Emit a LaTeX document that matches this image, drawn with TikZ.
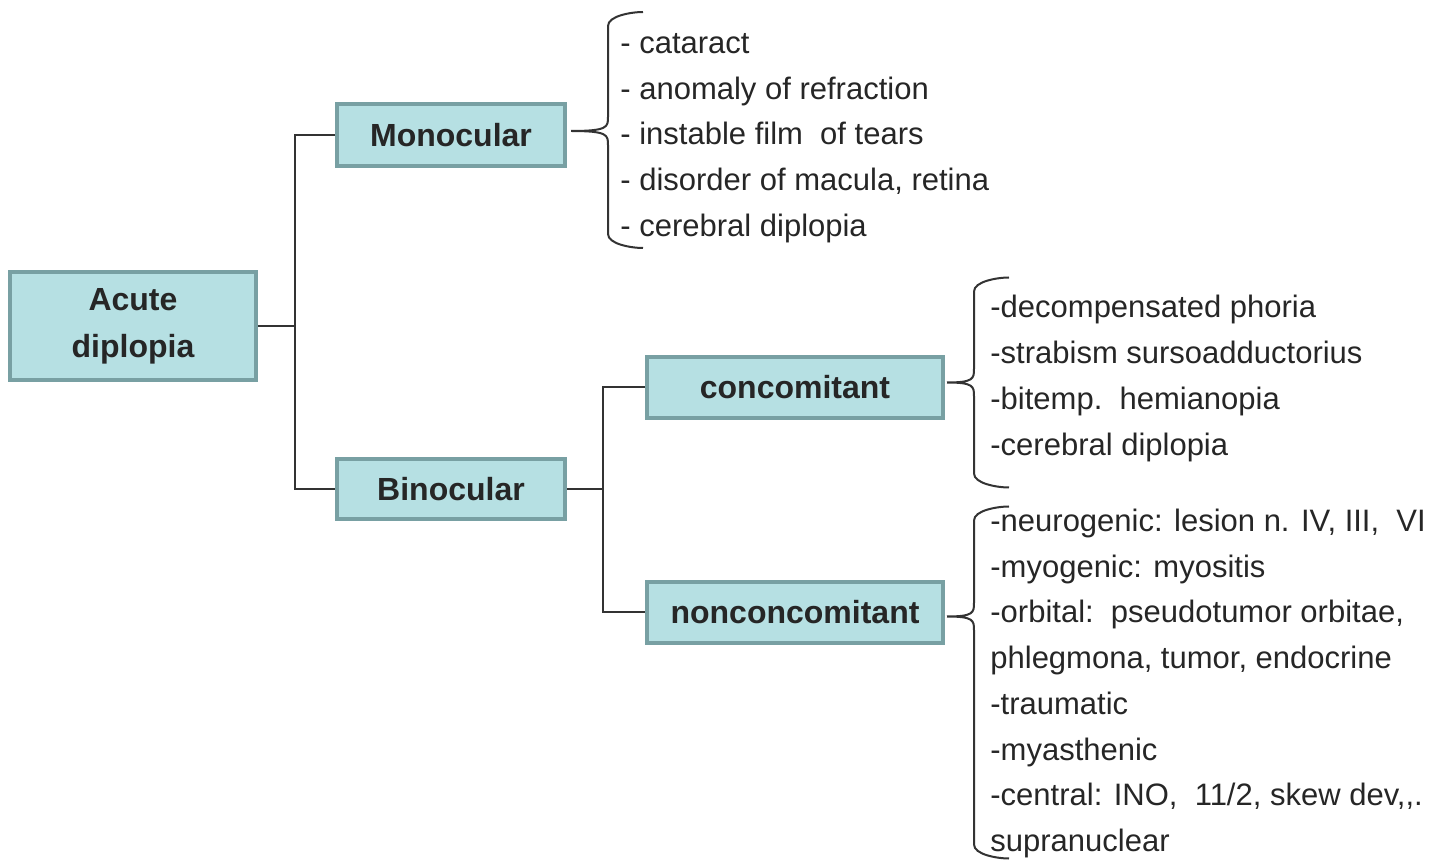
\documentclass[tikz,border=0pt]{standalone}
\usepackage{fontspec}
\setmainfont{Liberation Sans}
\usetikzlibrary{positioning}
\definecolor{boxfill}{RGB}{182,224,227}
\definecolor{boxline}{RGB}{120,160,163}
\definecolor{treeline}{RGB}{51,51,51}

% left curly brace: tip, offset of the stem, stem length up, stem length down
\newcommand{\curlybrace}[4]{%
  \draw [brc] (#1) .. controls +(#2,0) and +(0,-5pt) .. ++(#2,7pt) -- ++(0,#3)
                   .. controls +(0,5pt) and +(-6pt,0) .. ++(17.5pt,7pt)
              (#1) .. controls +(#2,0) and +(0,5pt) .. ++(#2,-7pt) -- ++(0,-#4)
                   .. controls +(0,-5pt) and +(-6pt,0) .. ++(17.5pt,-7pt);}

\begin{document}
\begin{tikzpicture}[node distance=1.5cm, auto,
    box/.style={draw=boxline, line width=2.2pt, fill=boxfill, text=black!85, inner sep=0pt, align=center,
        font=\fontsize{16pt}{23.5pt}\selectfont\bfseries},
    items/.style={inner sep=0pt, align=left, text=black!85, font=\fontsize{15.5pt}{22.85pt}\selectfont},
    link/.style={draw=treeline, line width=1pt},
    brc/.style={draw=treeline, line width=1pt}]
    \useasboundingbox (0,0) rectangle (716pt,-430.5pt);

    \node [box, minimum width=122.8pt, minimum height=53.8pt] (acute) at (66.5pt,-163pt) {Acute\\diplopia};
    \node [box, minimum width=113.8pt, minimum height=30.8pt, above right=51pt and 38.5pt of acute] (mono) {Monocular};
    \node [box, minimum width=113.8pt, minimum height=29.8pt, below right=37.5pt and 38.5pt of acute] (bino) {Binocular};
    \node [box, minimum width=147.8pt, minimum height=30.3pt, above right=18.5pt and 39pt of bino] (con) {concomitant};
    \node [box, minimum width=147.8pt, minimum height=30.3pt, below right=29.5pt and 39pt of bino] (noncon) {nonconcomitant};

    \node [items, right=26.5pt of mono, yshift=-1.5pt] (monolist) {- cataract\\- anomaly of refraction\\- instable film\ \ of tears\\- disorder of macula, retina\\- cerebral diplopia};
    \node [items, right=22.5pt of con, yshift=4.5pt] (conlist) {-decompensated phoria\\-strabism sursoadductorius\\-bitemp.\ \ hemianopia\\-cerebral diplopia};
    \node [items, right=22.5pt of noncon, yshift=-35.5pt] (nonlist) {-neurogenic: lesion n. IV, III,\ \ VI\\-myogenic: myositis\\-orbital:\ \ pseudotumor orbitae,\\phlegmona, tumor, endocrine\\-traumatic\\-myasthenic\\-central: INO,\ \ 11/2, skew dev,{},.\\supranuclear};

    % tree
    \draw [link] (acute.east) -- ++(18.5pt,0) |- (mono.west);
    \draw [link] (acute.east) -- ++(18.5pt,0) |- (bino.west);
    \draw [link] (bino.east) -- ++(18pt,0) |- (con.west);
    \draw [link] (bino.east) -- ++(18pt,0) |- (noncon.west);

    % braces
    \curlybrace{[xshift=2pt, yshift=2pt]mono.east}{18.5pt}{45.5pt}{44.5pt}
    \curlybrace{[xshift=1pt, yshift=2.5pt]con.east}{13.5pt}{38.5pt}{38.5pt}
    \curlybrace{[xshift=1pt, yshift=-2pt]noncon.east}{13.5pt}{41pt}{107pt}
\end{tikzpicture}
\end{document}
